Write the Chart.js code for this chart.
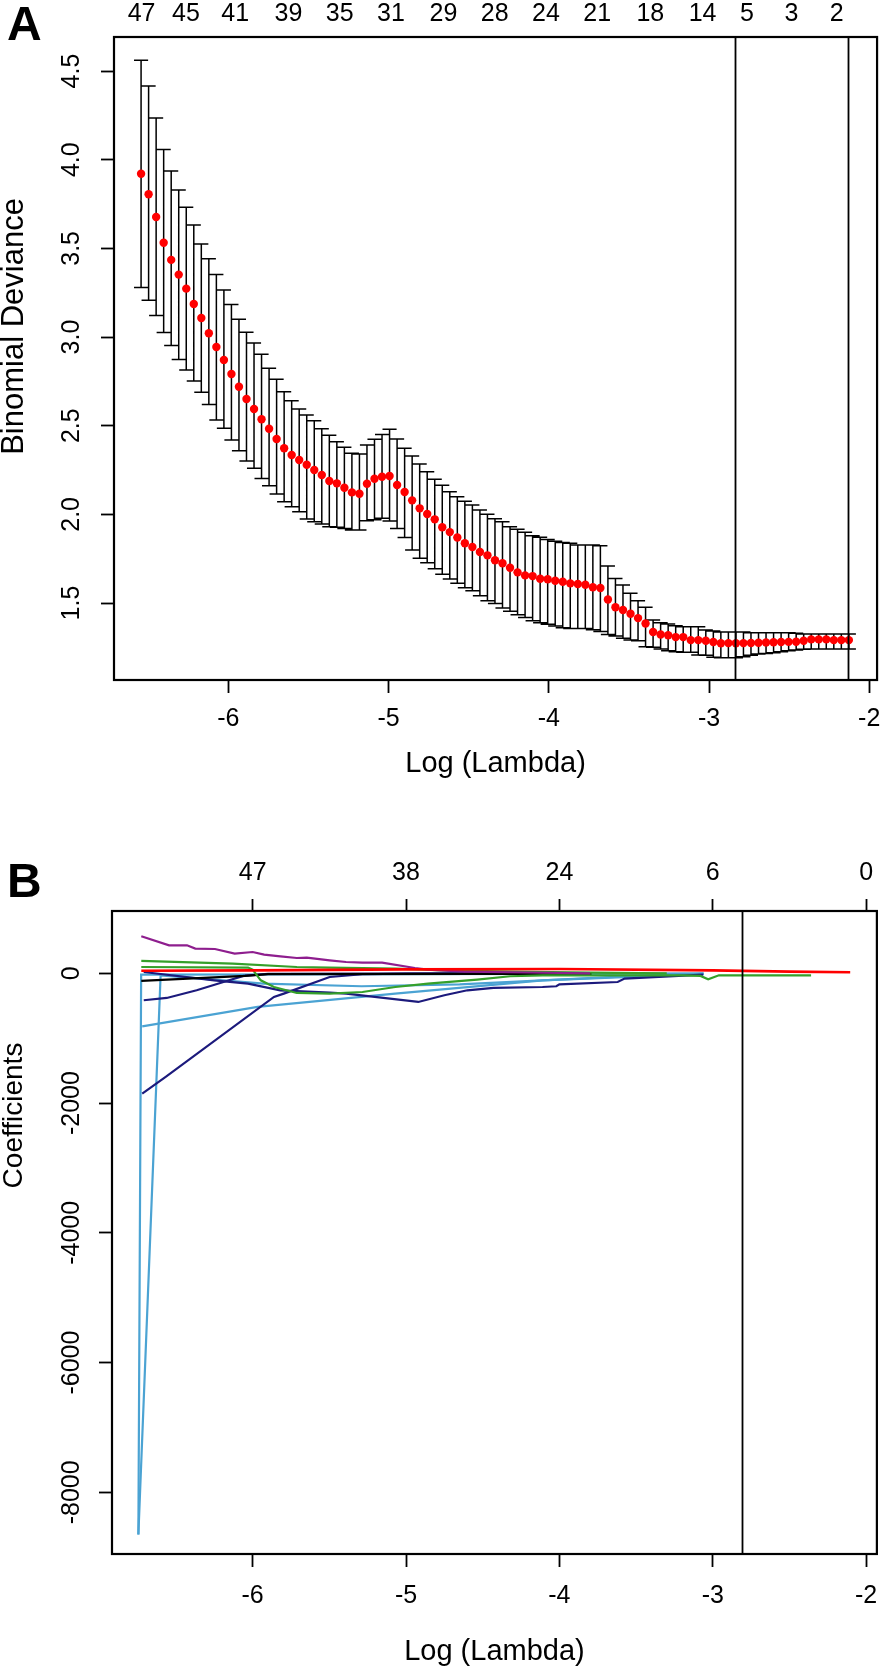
<!DOCTYPE html>
<html>
<head>
<meta charset="utf-8">
<script src="https://cdn.jsdelivr.net/npm/chart.js@4.4.1/dist/chart.umd.min.js"></script>
<style>
  body { margin: 0; background: #fff; }
  #wrap { position: relative; width: 894px; height: 1668px; }
  canvas { position: absolute; left: 0; }
  .tag { position: absolute; left: 7px; font: bold 48px "Liberation Sans", Arial, sans-serif; line-height: 48px; color: #000; }
</style>
</head>
<body>
<div id="wrap">
  <canvas id="cvA" width="894" height="830" style="top:0"></canvas>
  <canvas id="cvB" width="894" height="838" style="top:830px"></canvas>
  <div class="tag" style="top:0">A</div>
  <div class="tag" style="top:857px">B</div>
</div>
<script>
// ---- Panel A : cross-validation curve ----
const logLambdaA = [
  -6.545, -6.498, -6.451, -6.404, -6.357, -6.310, -6.263, -6.216, -6.169, -6.122,
  -6.075, -6.028, -5.981, -5.934, -5.887, -5.840, -5.793, -5.746, -5.699, -5.652,
  -5.605, -5.558, -5.511, -5.464, -5.417, -5.370, -5.323, -5.276, -5.229, -5.182,
  -5.135, -5.088, -5.041, -4.994, -4.947, -4.900, -4.853, -4.806, -4.759, -4.712,
  -4.665, -4.618, -4.571, -4.524, -4.477, -4.430, -4.383, -4.336, -4.289, -4.242,
  -4.195, -4.148, -4.101, -4.054, -4.007, -3.960, -3.913, -3.866, -3.819, -3.772,
  -3.725, -3.678, -3.631, -3.584, -3.537, -3.490, -3.443, -3.396, -3.349, -3.302,
  -3.255, -3.208, -3.161, -3.114, -3.067, -3.020, -2.973, -2.926, -2.879, -2.832,
  -2.785, -2.738, -2.691, -2.644, -2.597, -2.550, -2.503, -2.456, -2.409, -2.362,
  -2.315, -2.268, -2.221, -2.174, -2.127
];
const cvm = [
  3.921, 3.805, 3.677, 3.532, 3.435, 3.352, 3.273, 3.186, 3.107, 3.021,
  2.944, 2.871, 2.792, 2.720, 2.651, 2.594, 2.536, 2.483, 2.425, 2.373,
  2.335, 2.307, 2.280, 2.250, 2.222, 2.188, 2.175, 2.150, 2.124, 2.116,
  2.173, 2.201, 2.212, 2.216, 2.166, 2.126, 2.079, 2.034, 2.002, 1.972,
  1.927, 1.900, 1.870, 1.837, 1.816, 1.788, 1.769, 1.741, 1.724, 1.699,
  1.673, 1.656, 1.652, 1.637, 1.634, 1.626, 1.620, 1.611, 1.607, 1.603,
  1.589, 1.585, 1.520, 1.476, 1.461, 1.440, 1.415, 1.385, 1.337, 1.323,
  1.318, 1.308, 1.308, 1.291, 1.291, 1.287, 1.280, 1.273, 1.274, 1.273,
  1.274, 1.275, 1.276, 1.278, 1.279, 1.280, 1.281, 1.282, 1.287, 1.295,
  1.295, 1.295, 1.291, 1.291, 1.291
];
const cvup = [
  4.561, 4.416, 4.235, 4.057, 3.937, 3.829, 3.732, 3.632, 3.525, 3.442,
  3.352, 3.265, 3.184, 3.100, 3.027, 2.967, 2.903, 2.824, 2.762, 2.692,
  2.641, 2.594, 2.560, 2.528, 2.483, 2.446, 2.410, 2.378, 2.344, 2.340,
  2.391, 2.423, 2.451, 2.480, 2.425, 2.373, 2.329, 2.284, 2.240, 2.198,
  2.164, 2.128, 2.100, 2.074, 2.053, 2.025, 2.000, 1.975, 1.959, 1.930,
  1.916, 1.899, 1.880, 1.871, 1.859, 1.848, 1.842, 1.837, 1.827, 1.827,
  1.827, 1.823, 1.709, 1.639, 1.602, 1.555, 1.513, 1.476, 1.404, 1.389,
  1.382, 1.372, 1.366, 1.366, 1.366, 1.348, 1.342, 1.336, 1.336, 1.336,
  1.336, 1.333, 1.333, 1.333, 1.333, 1.333, 1.333, 1.329, 1.325, 1.325,
  1.325, 1.325, 1.325, 1.325, 1.325
];
const cvlo = [
  3.280, 3.207, 3.122, 3.025, 2.952, 2.874, 2.814, 2.752, 2.688, 2.620,
  2.532, 2.485, 2.419, 2.359, 2.301, 2.260, 2.203, 2.162, 2.115, 2.071,
  2.043, 2.015, 1.974, 1.959, 1.946, 1.930, 1.927, 1.921, 1.912, 1.912,
  1.964, 1.970, 1.978, 1.962, 1.921, 1.870, 1.799, 1.752, 1.727, 1.694,
  1.663, 1.635, 1.611, 1.586, 1.569, 1.541, 1.513, 1.498, 1.472, 1.453,
  1.434, 1.419, 1.400, 1.389, 1.380, 1.370, 1.361, 1.357, 1.357, 1.357,
  1.350, 1.340, 1.323, 1.314, 1.301, 1.291, 1.287, 1.254, 1.250, 1.241,
  1.231, 1.225, 1.222, 1.222, 1.207, 1.205, 1.194, 1.192, 1.192, 1.192,
  1.197, 1.205, 1.212, 1.216, 1.220, 1.225, 1.231, 1.235, 1.239, 1.241,
  1.241, 1.241, 1.241, 1.241, 1.241
];
// number of non-zero coefficients shown on the top axis
const nzAt     = [-6.542, -6.265, -5.957, -5.625, -5.305, -4.985, -4.658, -4.338, -4.018, -3.698, -3.366, -3.040, -2.763, -2.486, -2.203];
const nzLabels = ['47', '45', '41', '39', '35', '31', '29', '28', '24', '21', '18', '14', '5', '3', '2'];
const xTicksA  = [-6, -5, -4, -3, -2];
const yTicksA  = [1.5, 2.0, 2.5, 3.0, 3.5, 4.0, 4.5];
const lambdaLinesA = [-2.837, -2.133];   // lambda.min, lambda.1se

// ---- Panel B : coefficient paths ----
const dfAt     = [-6, -5, -4, -3, -2];
const dfLabels = ['47', '38', '24', '6', '0'];
const xTicksB  = [-6, -5, -4, -3, -2];
const yTicksB  = [-8000, -6000, -4000, -2000, 0];
const lambdaLinesB = [-2.81];

const pathPurple = [[-6.726, 570], [-6.545, 431], [-6.428, 431], [-6.374, 380], [-6.246, 374], [-6.117, 303], [-6.0, 328], [-5.925, 288], [-5.819, 262], [-5.712, 236], [-5.647, 242], [-5.498, 200], [-5.391, 174], [-5.284, 165], [-5.156, 165], [-4.942, 82], [-4.857, 57], [-4.62, 25], [-4.2, 12], [-3.8, 0]];
const pathGreen1 = [[-6.726, 190], [-6.13, 149], [-5.712, 97], [-5.498, 88], [-5.07, 72], [-4.75, 46], [-4.3, 25], [-3.8, 10], [-3.3, 0]];
const pathGreen2 = [[-6.726, 97], [-6.03, 88], [-6.0, 57], [-5.947, -108], [-5.861, -211], [-5.712, -303], [-5.498, -313], [-5.284, -288], [-5.07, -211], [-4.857, -159], [-4.536, -97], [-4.322, -46], [-4.108, -31], [-3.2, -31], [-3.08, -40], [-3.03, -92], [-2.96, -31], [-2.359, -31]];
const pathRed    = [[-6.726, 40], [-6.0, 45], [-5.0, 60], [-4.0, 65], [-3.0, 45], [-2.5, 25], [-2.104, 15]];
const pathBlack  = [[-6.726, -118], [-6.05, -41], [-5.9, -12], [-4.5, -10], [-3.79, -10]];
const pathNavy1  = [[-6.71, -416], [-6.56, -380], [-6.365, -262], [-6.19, -134], [-6.06, -41], [-5.9, -10], [-5.0, -5], [-4.0, 0]];
const pathNavy2  = [[-6.71, 20], [-6.25, -108], [-6.03, -159], [-5.82, -262], [-5.498, -297], [-5.39, -313], [-4.92, -442], [-4.75, -339], [-4.60, -262], [-4.43, -225], [-4.11, -211], [-4.02, -200], [-4.00, -170], [-3.62, -134], [-3.575, -82], [-3.062, -20]];
const pathNavy3  = [[-6.72, -1854], [-6.567, -1598], [-5.861, -365], [-5.797, -313], [-5.498, -57], [-5.284, -15], [-5.0, -5], [-4.5, 0]];
const pathLight1 = [[-6.745, -8650], [-6.727, -20], [-5.0, -15], [-4.0, -10], [-3.06, 0]];
const pathLight2 = [[-6.745, -8650], [-6.600, -31], [-5.93, -159], [-5.29, -200], [-4.65, -170], [-4.11, -108], [-3.5, -50], [-3.06, -10]];
const pathLight3 = [[-6.72, -817], [-5.968, -519], [-5.071, -313], [-4.11, -108], [-3.5, -40], [-3.06, -10]];

const FONT = '"Liberation Sans", Arial, Helvetica, sans-serif';
Chart.defaults.font.family = FONT;
Chart.defaults.color = '#000';

const C_PURPLE = '#8e1e8e', C_GREEN = '#35a02a', C_NAVY = '#1c1a7c', C_LIGHT = '#4ba3d3';

/** error bars as one broken line: stem, upper cap, lower cap */
function errorBarPoints(xs, lo, hi, cap) {
  const pts = [];
  xs.forEach((x, i) => {
    pts.push({ x, y: lo[i] }, { x, y: hi[i] }, { x, y: null });
    pts.push({ x: x - cap, y: hi[i] }, { x: x + cap, y: hi[i] }, { x, y: null });
    pts.push({ x: x - cap, y: lo[i] }, { x: x + cap, y: lo[i] }, { x, y: null });
  });
  return pts;
}

// frame around the plot region plus vertical lambda lines
const framePlugin = {
  id: 'frame',
  afterDatasetsDraw(chart, args, opts) {
    const { ctx, chartArea: a, scales: { x } } = chart;
    ctx.save();
    ctx.strokeStyle = '#000';
    ctx.lineWidth = 1.8;
    for (const v of opts.lines || []) {
      const px = Math.round(x.getPixelForValue(v)) + 0.5;
      ctx.beginPath();
      ctx.moveTo(px, a.top);
      ctx.lineTo(px, a.bottom);
      ctx.stroke();
    }
    ctx.lineWidth = 2.2;
    ctx.strokeRect(a.left, a.top, a.right - a.left, a.bottom - a.top);
    ctx.restore();
  },
};

// rotated y-axis title, placed like the original (not exactly centred)
const yTitlePlugin = {
  id: 'yTitle',
  afterDraw(chart, args, opts) {
    const { ctx, chartArea: a } = chart;
    ctx.save();
    ctx.font = `${opts.size}px ${FONT}`;
    ctx.fillStyle = '#000';
    ctx.textAlign = 'center';
    ctx.textBaseline = 'middle';
    ctx.translate(opts.x, (a.top + a.bottom) / 2 + opts.shift);
    ctx.rotate(-Math.PI / 2);
    ctx.fillText(opts.text, 0, 0);
    ctx.restore();
  },
};

const tickGrid = len => ({ drawOnChartArea: false, drawTicks: true, tickLength: len, tickColor: '#000', tickWidth: 1.8 });
const tickFont = { size: 25, lineHeight: 1 };
const titleFont = { size: 29, lineHeight: 1 };

function fixedTicks(values) {
  return s => { s.ticks = values.map(v => ({ value: v })); };
}

// ---------- chart A ----------
new Chart(document.getElementById('cvA'), {
  type: 'line',
  data: {
    datasets: [
      {
        data: logLambdaA.map((x, i) => ({ x, y: cvm[i] })),
        showLine: false, pointRadius: 4.2, pointBackgroundColor: '#ff0000',
        pointBorderWidth: 0, order: 0,
      },
      {
        data: errorBarPoints(logLambdaA, cvlo, cvup, 0.044),
        borderColor: '#000', borderWidth: 1.5, pointRadius: 0, spanGaps: false, order: 1,
      },
    ],
  },
  options: {
    responsive: false, animation: false, devicePixelRatio: 1,
    layout: { padding: { right: 6 } },
    plugins: {
      legend: { display: false }, tooltip: { enabled: false },
      frame: { lines: lambdaLinesA },
      yTitle: { text: 'Binomial Deviance', size: 31, x: 14, shift: -32 },
    },
    scales: {
      x: {
        type: 'linear', position: 'bottom', min: -6.714, max: -1.951, bounds: 'data',
        afterBuildTicks: fixedTicks(xTicksA),
        afterFit: s => { s.height = 150; },
        grid: tickGrid(13), border: { display: false },
        ticks: { font: tickFont, padding: 13.5, maxRotation: 0, autoSkip: false, callback: v => String(v) },
        title: { display: true, text: 'Log (Lambda)', font: titleFont, padding: { top: 0, bottom: 52 } },
      },
      xTop: {
        type: 'linear', position: 'top', min: -6.714, max: -1.951, bounds: 'data',
        afterBuildTicks: fixedTicks(nzAt),
        afterFit: s => { s.height = 37; },
        grid: { display: false, drawTicks: false }, border: { display: false },
        ticks: { font: tickFont, padding: 10.5, maxRotation: 0, autoSkip: false, callback: (v, i) => nzLabels[i] },
      },
      y: {
        type: 'linear', min: 1.066, max: 4.692, bounds: 'data',
        afterBuildTicks: fixedTicks(yTicksA),
        afterFit: s => { s.width = 114; },
        grid: tickGrid(13), border: { display: false },
        ticks: { font: tickFont, padding: 11.6, minRotation: 90, maxRotation: 90, crossAlign: 'center', callback: v => v.toFixed(1) },
        title: { display: false },
      },
    },
  },
  plugins: [framePlugin, yTitlePlugin],
});

// ---------- chart B ----------
const paths = [
  [pathLight1, C_LIGHT], [pathLight2, C_LIGHT], [pathLight3, C_LIGHT],
  [pathNavy3, C_NAVY], [pathNavy1, C_NAVY], [pathNavy2, C_NAVY],
  [pathBlack, '#000'], [pathGreen2, C_GREEN], [pathGreen1, C_GREEN],
  [pathPurple, C_PURPLE], [pathRed, '#ff0000'],
];

new Chart(document.getElementById('cvB'), {
  type: 'line',
  data: {
    datasets: paths.map(([p, col], i) => ({
      data: p.map(([x, y]) => ({ x, y })),
      borderColor: col, borderWidth: col === '#ff0000' ? 2.6 : 2.2,
      pointRadius: 0, tension: 0, order: paths.length - i,
    })),
  },
  options: {
    responsive: false, animation: false, devicePixelRatio: 1,
    layout: { padding: { right: 4 } },
    plugins: {
      legend: { display: false }, tooltip: { enabled: false },
      frame: { lines: lambdaLinesB },
      yTitle: { text: 'Coefficients', size: 28, x: 14, shift: -117 },
    },
    scales: {
      x: {
        type: 'linear', position: 'bottom', min: -6.917, max: -1.930, bounds: 'data',
        afterBuildTicks: fixedTicks(xTicksB),
        afterFit: s => { s.height = 114; },
        grid: tickGrid(13), border: { display: false },
        ticks: { font: tickFont, padding: 16.5, maxRotation: 0, autoSkip: false, callback: v => String(v) },
        title: { display: true, text: 'Log (Lambda)', font: titleFont, padding: { top: 0, bottom: 2 } },
      },
      xTop: {
        type: 'linear', position: 'top', min: -6.917, max: -1.930, bounds: 'data',
        afterBuildTicks: fixedTicks(dfAt),
        afterFit: s => { s.height = 81; },
        grid: tickGrid(12), border: { display: false },
        ticks: { font: tickFont, padding: 13.5, maxRotation: 0, autoSkip: false, callback: (v, i) => dfLabels[i] },
      },
      y: {
        type: 'linear', min: -8950, max: 960, bounds: 'data',
        afterBuildTicks: fixedTicks(yTicksB),
        afterFit: s => { s.width = 112; },
        grid: tickGrid(13), border: { display: false },
        ticks: { font: tickFont, padding: -5, minRotation: 90, maxRotation: 90, crossAlign: 'center', callback: v => String(v) },
        title: { display: false },
      },
    },
  },
  plugins: [framePlugin, yTitlePlugin],
});
</script>
</body>
</html>
